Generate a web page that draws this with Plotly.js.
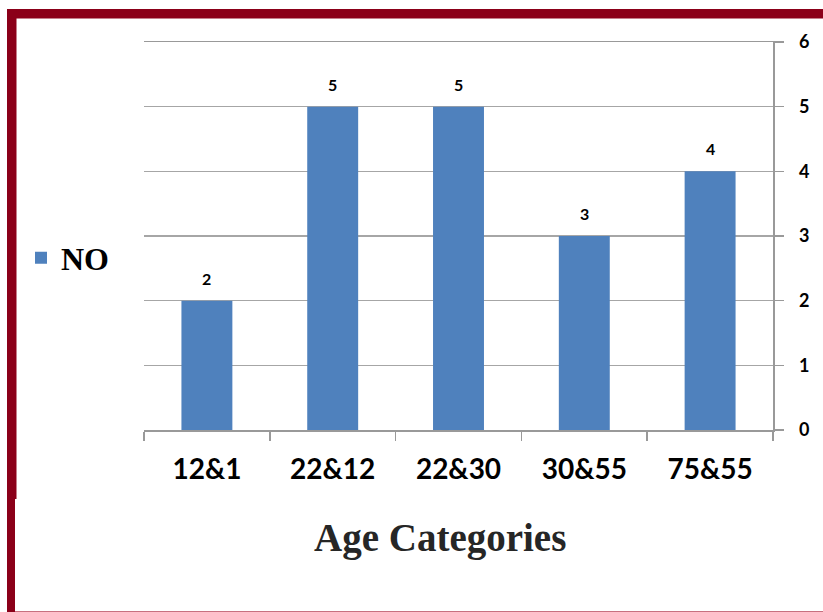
<!DOCTYPE html>
<html>
<head>
<meta charset="utf-8">
<script src="https://cdn.plot.ly/plotly-3.0.1.min.js"></script>
<style>
  html, body { margin: 0; padding: 0; background: #ffffff; }
  #chart { width: 823px; height: 612px; }
</style>
</head>
<body>
<div id="chart"></div>
<script>
// ---- data ----
const categories = ["12&1", "22&12", "22&30", "30&55", "75&55"];
const noValues = [2, 5, 5, 3, 4];
const seriesName = "NO";
const xTitle = "Age Categories";
const yTickValues = [0, 1, 2, 3, 4, 5, 6];

// ---- geometry helpers (pixel -> paper) ----
const W = 823, H = 612;
const M = { l: 144, r: 50, t: 42, b: 182 };
const PW = W - M.l - M.r, PH = H - M.t - M.b;
const px = v => (v - M.l) / PW;
const py = v => (H - M.b - v) / PH;

const borderColor = "#8B0019";

const trace = {
  type: "bar",
  x: categories,
  y: noValues,
  name: seriesName,
  marker: { color: "#4F81BD", line: { width: 0 } },
  width: 0.405,
  showlegend: true,
  hoverinfo: "x+y"
};

const annotations = categories.map((c, i) => ({
  x: c, y: noValues[i], xref: "x", yref: "y",
  text: String(noValues[i]), showarrow: false,
  yanchor: "bottom", yshift: 11,
  font: { family: "Lato, 'Open Sans', sans-serif", size: 16, color: "#000", weight: "bold" }
}));
annotations.push({
  xref: "paper", yref: "paper",
  x: px(440), y: py(538),
  xanchor: "center", yanchor: "middle",
  text: "<b>" + xTitle + "</b>", showarrow: false,
  font: { family: "'Liberation Serif', 'Times New Roman', serif", size: 39, color: "#262626" }
});

const shapes = [
  // top band
  { type: "rect", xref: "paper", yref: "paper", x0: px(7), x1: px(823), y0: py(18.5), y1: py(9), fillcolor: borderColor, line: { width: 0 }, layer: "above" },
  // left band (upper, thicker)
  { type: "rect", xref: "paper", yref: "paper", x0: px(7), x1: px(16.5), y0: py(499), y1: py(9), fillcolor: borderColor, line: { width: 0 }, layer: "above" },
  // left band (lower, thinner)
  { type: "rect", xref: "paper", yref: "paper", x0: px(7), x1: px(15), y0: py(612), y1: py(499), fillcolor: borderColor, line: { width: 0 }, layer: "above" },
  // bottom thin line
  { type: "line", xref: "paper", yref: "paper", x0: px(15), x1: px(823), y0: py(611.5), y1: py(611.5), line: { color: "#c8707f", width: 1 }, layer: "above" }
];

const layout = {
  width: W, height: H,
  margin: M,
  paper_bgcolor: "#ffffff",
  plot_bgcolor: "#ffffff",
  bargap: 0.595,
  showlegend: true,
  legend: {
    x: px(21), y: py(258), xanchor: "left", yanchor: "middle",
    font: { family: "'Liberation Serif', 'Times New Roman', serif", size: 32, color: "#000", weight: "bold" },
    bgcolor: "rgba(0,0,0,0)", borderwidth: 0
  },
  xaxis: {
    type: "category",
    tickson: "boundaries",
    ticks: "outside", ticklen: 9, tickcolor: "#999999", tickwidth: 1.5,
    showline: true, linecolor: "#999999", linewidth: 1.5, mirror: true,
    showgrid: false, zeroline: false,
    tickfont: { family: "Lato, 'Open Sans', sans-serif", size: 28, color: "#000", weight: "bold" },
    ticklabelstandoff: 14
  },
  yaxis: {
    side: "right",
    range: [0, 6],
    tickvals: yTickValues,
    ticks: "outside", ticklen: 9, tickcolor: "#999999", tickwidth: 1.5,
    showline: true, linecolor: "#999999", linewidth: 1.5,
    showgrid: true, gridcolor: "#a6a6a6", gridwidth: 1.5,
    zeroline: false,
    tickfont: { family: "Lato, 'Open Sans', sans-serif", size: 18, color: "#000", weight: "bold" },
    ticklabelstandoff: 12
  },
  annotations: annotations,
  shapes: shapes
};

Plotly.newPlot("chart", [trace], layout, { displayModeBar: false, staticPlot: true });
</script>
</body>
</html>
